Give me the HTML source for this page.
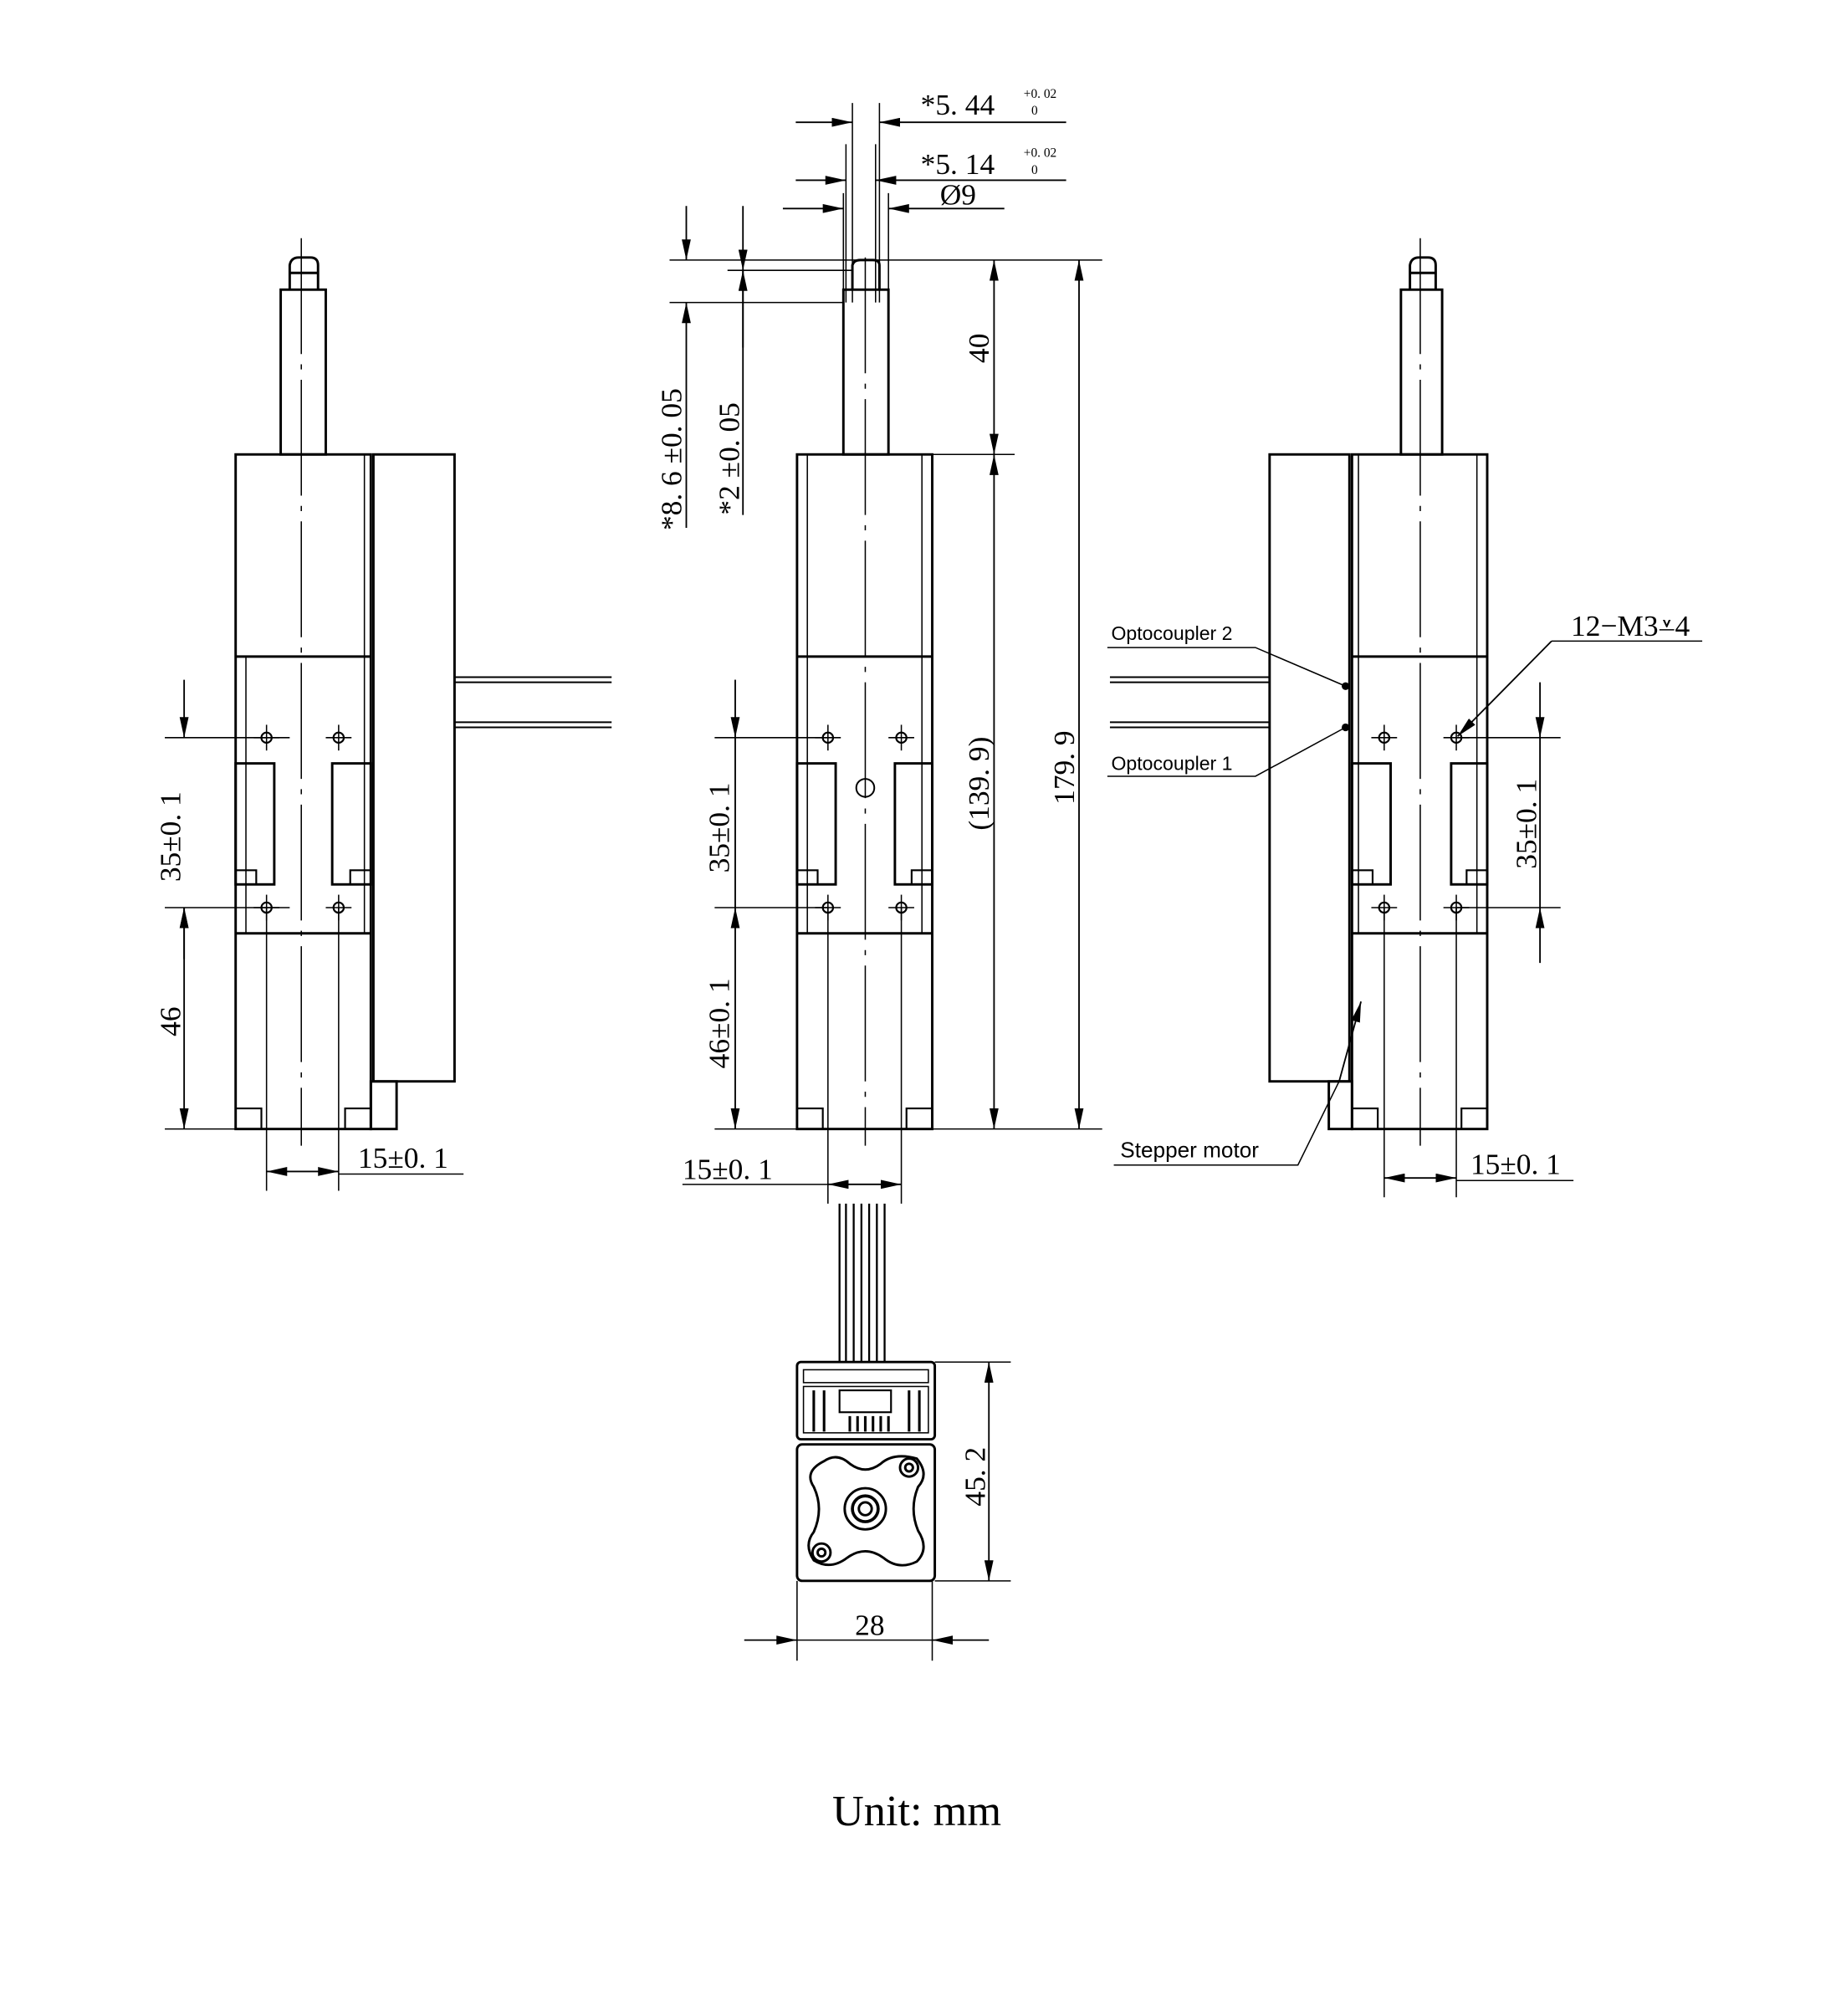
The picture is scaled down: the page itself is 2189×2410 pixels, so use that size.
<!DOCTYPE html>
<html><head><meta charset="utf-8"><style>
html,body{margin:0;padding:0;background:#fff}
svg{display:block}
text{font-family:"Liberation Serif",serif;fill:#000}
.s{font-family:"Liberation Sans",sans-serif}
</style></head><body>
<svg width="2189" height="2410" viewBox="0 0 1422 1566" preserveAspectRatio="none" xmlns="http://www.w3.org/2000/svg">
<defs>
<marker id="a" viewBox="0 0 16 7" refX="16" refY="3.5" markerWidth="16" markerHeight="7" markerUnits="userSpaceOnUse" orient="auto-start-reverse"><path d="M0,0L16,3.5L0,7z" fill="#000"/></marker>
<g id="hole"><circle r="4" fill="none" stroke="#000" stroke-width="1.4"/><line x1="-10" y1="0" x2="10" y2="0" stroke="#000" stroke-width="1"/><line x1="0" y1="-10" x2="0" y2="10" stroke="#000" stroke-width="1"/></g>
</defs>
<rect width="1422" height="1566" fill="#fff"/>
<g fill="none" stroke="#000" stroke-width="1.9">
<!-- LEFT VIEW -->
<path d="M225,225 L225,206 Q226,200 232,200 L241,200 Q247,200 247,206 L247,225"/>
<line x1="225" y1="212" x2="247" y2="212"/>
<rect x="218" y="225" width="35" height="128"/>
<rect x="183" y="353" width="105" height="524"/>
<line x1="183" y1="510" x2="288" y2="510"/><line x1="183" y1="725" x2="288" y2="725"/>
<line x1="191" y1="510" x2="191" y2="725" stroke-width="1"/><line x1="283" y1="353" x2="283" y2="725" stroke-width="1"/>
<rect x="290" y="353" width="63" height="487"/>
<rect x="288" y="840" width="20" height="37"/>
<rect x="183" y="593" width="30" height="94"/><rect x="258" y="593" width="30" height="94"/>
<rect x="183" y="676" width="16" height="11" stroke-width="1.4"/><rect x="272" y="676" width="16" height="11" stroke-width="1.4"/>
<rect x="183" y="861" width="20" height="16" stroke-width="1.4"/><rect x="268" y="861" width="20" height="16" stroke-width="1.4"/>
<line x1="234" y1="185" x2="234" y2="890" stroke-width="1" stroke-dasharray="90,8,4,8"/>
<path d="M353,526H475M353,530H475M353,561H475M353,565H475" stroke-width="1.3"/>
<!-- left dims -->
<path d="M128,573H225M128,705H225M128,877H183" stroke-width="1"/>
<line x1="143" y1="528" x2="143" y2="573" stroke-width="1.2" marker-end="url(#a)"/>
<line x1="143" y1="745" x2="143" y2="705" stroke-width="1.2" marker-end="url(#a)"/>
<line x1="143" y1="705" x2="143" y2="877" stroke-width="1.2" marker-start="url(#a)" marker-end="url(#a)"/>
<path d="M207,705V925M263,705V925" stroke-width="1"/>
<line x1="207" y1="910" x2="263" y2="910" stroke-width="1.2" marker-start="url(#a)" marker-end="url(#a)"/>
<line x1="263" y1="912" x2="360" y2="912" stroke-width="1"/>

<!-- MIDDLE VIEW -->
<path d="M662,225 L662,206 Q663,202 668,202 L678,202 Q683,202 683,206 L683,225"/>
<rect x="655" y="225" width="35" height="128"/>
<rect x="619" y="353" width="105" height="524"/>
<line x1="619" y1="510" x2="724" y2="510"/><line x1="619" y1="725" x2="724" y2="725"/>
<line x1="627" y1="353" x2="627" y2="725" stroke-width="1"/><line x1="716" y1="353" x2="716" y2="725" stroke-width="1"/>
<rect x="619" y="593" width="30" height="94"/><rect x="695" y="593" width="29" height="94"/>
<rect x="619" y="676" width="16" height="11" stroke-width="1.4"/><rect x="708" y="676" width="16" height="11" stroke-width="1.4"/>
<rect x="619" y="861" width="20" height="16" stroke-width="1.4"/><rect x="704" y="861" width="20" height="16" stroke-width="1.4"/>
<circle cx="672" cy="612" r="7" stroke-width="1.3"/>
<line x1="672" y1="200" x2="672" y2="890" stroke-width="1" stroke-dasharray="90,8,4,8"/>
<!-- middle dims -->
<path d="M520,202H856M520,235H655M565,210H662M690,353H788M724,877H856" stroke-width="1"/>
<line x1="838" y1="202" x2="838" y2="877" stroke-width="1.2" marker-start="url(#a)" marker-end="url(#a)"/>
<line x1="772" y1="202" x2="772" y2="353" stroke-width="1.2" marker-start="url(#a)" marker-end="url(#a)"/>
<line x1="772" y1="353" x2="772" y2="877" stroke-width="1.2" marker-start="url(#a)" marker-end="url(#a)"/>
<line x1="533" y1="160" x2="533" y2="202" stroke-width="1.2" marker-end="url(#a)"/>
<line x1="533" y1="410" x2="533" y2="235" stroke-width="1.2" marker-end="url(#a)"/>
<line x1="577" y1="160" x2="577" y2="210" stroke-width="1.2" marker-end="url(#a)"/>
<line x1="577" y1="400" x2="577" y2="210" stroke-width="1.2"/>
<line x1="577" y1="270" x2="577" y2="210" stroke-width="1.2" marker-end="url(#a)"/>
<path d="M555,573H643M555,705H643M555,877H619" stroke-width="1"/>
<line x1="571" y1="528" x2="571" y2="573" stroke-width="1.2" marker-end="url(#a)"/>
<line x1="571" y1="573" x2="571" y2="705" stroke-width="1.2"/>
<line x1="571" y1="705" x2="571" y2="877" stroke-width="1.2" marker-start="url(#a)" marker-end="url(#a)"/>
<path d="M662,80V235M683,80V235M657,112V235M680,112V235M655,150V225M690,150V235" stroke-width="1"/>
<line x1="618" y1="95" x2="662" y2="95" stroke-width="1.2" marker-end="url(#a)"/>
<line x1="828" y1="95" x2="683" y2="95" stroke-width="1.2" marker-end="url(#a)"/>
<line x1="618" y1="140" x2="657" y2="140" stroke-width="1.2" marker-end="url(#a)"/>
<line x1="828" y1="140" x2="680" y2="140" stroke-width="1.2" marker-end="url(#a)"/>
<line x1="608" y1="162" x2="655" y2="162" stroke-width="1.2" marker-end="url(#a)"/>
<line x1="780" y1="162" x2="690" y2="162" stroke-width="1.2" marker-end="url(#a)"/>
<path d="M643,705V935M700,705V935" stroke-width="1"/>
<line x1="643" y1="920" x2="700" y2="920" stroke-width="1.2" marker-start="url(#a)" marker-end="url(#a)"/>
<line x1="530" y1="920" x2="643" y2="920" stroke-width="1"/>
<!-- wires & connector -->
<path d="M652,935V1058M657,935V1058M663,935V1058M669,935V1058M675,935V1058M681,935V1058M687,935V1058" stroke-width="1.5"/>
<rect x="619" y="1058" width="107" height="60" rx="3"/>
<rect x="624" y="1064" width="97" height="10" stroke-width="1"/>
<rect x="624" y="1077" width="97" height="36" stroke-width="1"/>
<rect x="652" y="1080" width="40" height="17" stroke-width="1.4"/>
<path d="M660,1100V1112M666,1100V1112M672,1100V1112M678,1100V1112M684,1100V1112M690,1100V1112M632,1080V1112M640,1080V1112M706,1080V1112M714,1080V1112" stroke-width="2"/>
<rect x="619" y="1122" width="107" height="106" rx="4"/>
<path d="M640,1135 Q650,1128 660,1137 Q672,1146 684,1137 Q694,1128 712,1133 Q722,1145 713,1155 Q706,1172 713,1189 Q722,1203 712,1213 Q698,1220 686,1210 Q672,1200 658,1210 Q645,1220 632,1212 Q624,1200 632,1190 Q640,1172 632,1155 Q624,1143 640,1135z"/>
<circle cx="672" cy="1172" r="16"/><circle cx="672" cy="1172" r="10" stroke-width="2.4"/><circle cx="672" cy="1172" r="5"/>
<circle cx="706" cy="1140" r="7"/><circle cx="706" cy="1140" r="3"/>
<circle cx="638" cy="1206" r="7"/><circle cx="638" cy="1206" r="3"/>
<path d="M726,1058H785M726,1228H785M619,1228V1290M724,1228V1290" stroke-width="1"/>
<line x1="768" y1="1058" x2="768" y2="1228" stroke-width="1.2" marker-start="url(#a)" marker-end="url(#a)"/>
<line x1="578" y1="1274" x2="619" y2="1274" stroke-width="1.2" marker-end="url(#a)"/>
<line x1="768" y1="1274" x2="724" y2="1274" stroke-width="1.2" marker-end="url(#a)"/>
<line x1="619" y1="1274" x2="724" y2="1274" stroke-width="1"/>

<!-- RIGHT VIEW -->
<path d="M1095,225 L1095,206 Q1096,200 1102,200 L1109,200 Q1115,200 1115,206 L1115,225"/>
<line x1="1095" y1="212" x2="1115" y2="212"/>
<rect x="1088" y="225" width="32" height="128"/>
<rect x="1050" y="353" width="105" height="524"/>
<line x1="1050" y1="510" x2="1155" y2="510"/><line x1="1050" y1="725" x2="1155" y2="725"/>
<line x1="1055" y1="353" x2="1055" y2="725" stroke-width="1"/><line x1="1147" y1="353" x2="1147" y2="725" stroke-width="1"/>
<rect x="986" y="353" width="62" height="487"/>
<rect x="1032" y="840" width="18" height="37"/>
<rect x="1050" y="593" width="30" height="94"/><rect x="1127" y="593" width="28" height="94"/>
<rect x="1050" y="676" width="16" height="11" stroke-width="1.4"/><rect x="1139" y="676" width="16" height="11" stroke-width="1.4"/>
<rect x="1050" y="861" width="20" height="16" stroke-width="1.4"/><rect x="1135" y="861" width="20" height="16" stroke-width="1.4"/>
<line x1="1103" y1="185" x2="1103" y2="890" stroke-width="1" stroke-dasharray="90,8,4,8"/>
<path d="M862,526H986M862,530H986M862,561H986M862,565H986" stroke-width="1.3"/>
<path d="M1131,573H1212M1131,705H1212" stroke-width="1"/>
<line x1="1196" y1="530" x2="1196" y2="573" stroke-width="1.2" marker-end="url(#a)"/>
<line x1="1196" y1="748" x2="1196" y2="705" stroke-width="1.2" marker-end="url(#a)"/>
<line x1="1196" y1="573" x2="1196" y2="705" stroke-width="1.2"/>
<path d="M1075,705V930M1131,705V930" stroke-width="1"/>
<line x1="1075" y1="915" x2="1131" y2="915" stroke-width="1.2" marker-start="url(#a)" marker-end="url(#a)"/>
<line x1="1131" y1="917" x2="1222" y2="917" stroke-width="1"/>
<!-- leaders -->
<path d="M860,503H975L1045,533M860,603H975L1045,565" stroke-width="1"/>
<path d="M865,905H1008L1040,840" stroke-width="1"/>
<line x1="1040" y1="840" x2="1057" y2="778" stroke-width="1.2" marker-end="url(#a)"/>
<path d="M1322,498H1205" stroke-width="1"/>
<line x1="1205" y1="498" x2="1132" y2="572" stroke-width="1.2" marker-end="url(#a)"/>
</g>
<g fill="#000"><circle cx="1045" cy="533" r="3"/><circle cx="1045" cy="565" r="3"/></g>
<use href="#hole" x="207" y="573"/><use href="#hole" x="263" y="573"/><use href="#hole" x="207" y="705"/><use href="#hole" x="263" y="705"/>
<use href="#hole" x="643" y="573"/><use href="#hole" x="700" y="573"/><use href="#hole" x="643" y="705"/><use href="#hole" x="700" y="705"/>
<use href="#hole" x="1075" y="573"/><use href="#hole" x="1131" y="573"/><use href="#hole" x="1075" y="705"/><use href="#hole" x="1131" y="705"/>

<!-- TEXT -->
<g font-size="23">
<text transform="translate(140,685) rotate(-90)">35±0. 1</text>
<text transform="translate(140,805) rotate(-90)">46</text>
<text x="278" y="907">15±0. 1</text>
<text x="715" y="89">*5. 44</text>
<text x="795" y="76" font-size="10">+0. 02</text><text x="801" y="89" font-size="10">0</text>
<text x="715" y="135">*5. 14</text>
<text x="795" y="122" font-size="10">+0. 02</text><text x="801" y="135" font-size="10">0</text>
<text x="730" y="159">Ø9</text>
<text transform="translate(529,412) rotate(-90)">*8. 6 ±0. 05</text>
<text transform="translate(574,400) rotate(-90)">*2 ±0. 05</text>
<text transform="translate(768,282) rotate(-90)">40</text>
<text transform="translate(768,645) rotate(-90)">(139. 9)</text>
<text transform="translate(834,625) rotate(-90)">179. 9</text>
<text transform="translate(566,678) rotate(-90)">35±0. 1</text>
<text transform="translate(566,830) rotate(-90)">46±0. 1</text>
<text x="530" y="916">15±0. 1</text>
<text transform="translate(765,1170) rotate(-90)">45. 2</text>
<text x="664" y="1270">28</text>
<text transform="translate(1193,675) rotate(-90)">35±0. 1</text>
<text x="1142" y="912">15±0. 1</text>
<text x="1220" y="494">12−M3⩡4</text>
</g>
<g class="s" font-size="15">
<text class="s" x="863" y="497">Optocoupler 2</text>
<text class="s" x="863" y="598">Optocoupler 1</text>
<text class="s" x="870" y="899" font-size="17">Stepper motor</text>
</g>
<text x="712" y="1418" font-size="34" text-anchor="middle">Unit: mm</text>
</svg>
</body></html>
